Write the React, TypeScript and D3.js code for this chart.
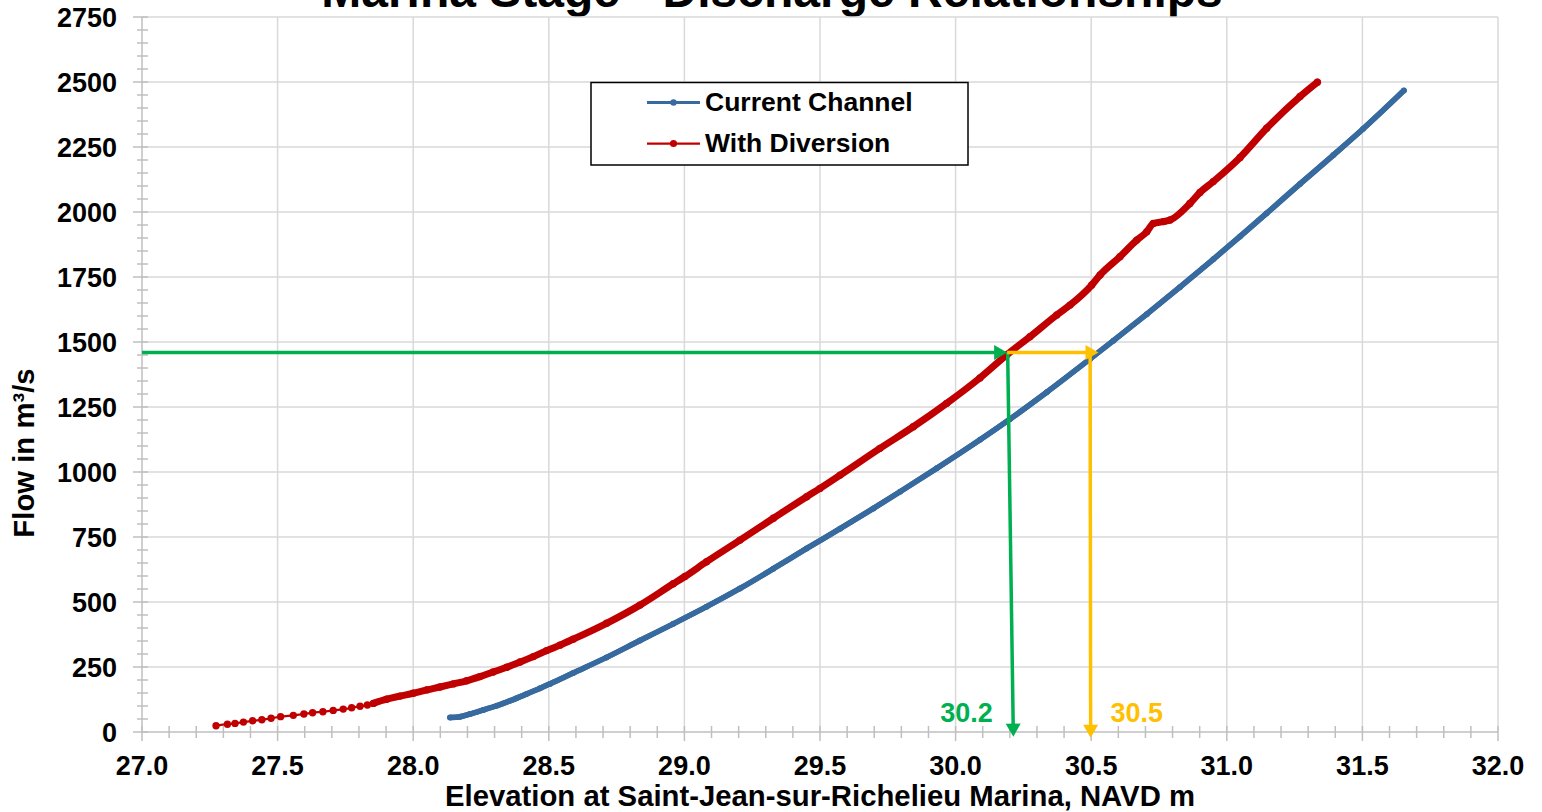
import * as d3 from "d3";
import { useEffect, useRef } from "react";

// Stage (m) and discharge (m3/s).
const currentElev = [
  28.136, 28.173, 28.209, 28.259, 28.308, 28.357, 28.418, 28.468, 28.504, 28.59,
  28.713, 28.836, 28.959, 29.082, 29.205, 29.328, 29.451, 29.574, 29.697, 29.795,
  29.93, 30.09, 30.201, 30.336, 30.496, 30.582, 30.705, 30.827, 30.95, 31.049,
  31.147, 31.27, 31.393, 31.503, 31.653,
];
const currentFlow = [
  56, 59, 69, 85, 101, 120, 146, 168, 185, 227,
  287, 352, 416, 482, 552, 628, 706, 782, 860, 924,
  1014, 1124, 1204, 1307, 1435, 1505, 1607, 1711, 1818, 1906,
  1995, 2108, 2219, 2320, 2467,
];

const diversionElev = [
  27.273, 27.315, 27.343, 27.374, 27.408, 27.442, 27.476, 27.511, 27.558, 27.597,
  27.629, 27.667, 27.705, 27.742, 27.773, 27.804, 27.831, 27.853, 27.902, 27.951,
  28.0, 28.05, 28.099, 28.148, 28.197, 28.246, 28.295, 28.345, 28.394, 28.443,
  28.492, 28.541, 28.59, 28.713, 28.836, 28.959, 29.002, 29.082, 29.205, 29.328,
  29.451, 29.5, 29.574, 29.721, 29.844, 29.967, 30.09, 30.188, 30.274, 30.373,
  30.422, 30.502, 30.533, 30.606, 30.668, 30.705, 30.729, 30.766, 30.791, 30.864,
  30.901, 30.95, 31.049, 31.147, 31.27, 31.334,
];
const diversionFlow = [
  24, 30, 33, 38, 43, 47, 53, 59, 64, 69,
  74, 78, 83, 88, 93, 99, 104, 110, 126, 138,
  149, 162, 173, 185, 197, 213, 231, 249, 269, 290,
  313, 334, 357, 418, 488, 570, 598, 655, 738, 822,
  905, 937, 988, 1091, 1174, 1264, 1362, 1450, 1520, 1604,
  1642, 1719, 1758, 1828, 1892, 1924, 1956, 1963, 1969, 2033,
  2075, 2117, 2210, 2322, 2444, 2499,
];

// Below this elevation the "With Diversion" markers sit apart on a thin line
const diversionSparseBelow = 27.86;

const seriesNames = ["Current Channel", "With Diversion"];

const xTickValues = [27, 27.5, 28, 28.5, 29, 29.5, 30, 30.5, 31, 31.5, 32];
const xTickLabels = ["27.0", "27.5", "28.0", "28.5", "29.0", "29.5", "30.0", "30.5", "31.0", "31.5", "32.0"];
const yTickValues = [0, 250, 500, 750, 1000, 1250, 1500, 1750, 2000, 2250, 2500, 2750];

// Read-off arrows: [start, end] as [elevation, flow]
const greenAcross = [[27.0, 1460], [30.19, 1460]];
const greenDown = [[30.192, 1460], [30.213, -18]];
const yellowAcross = [[30.19, 1460], [30.527, 1460]];
const yellowDown = [[30.496, 1460], [30.498, -22]];
const readLabels = ["30.2", "30.5"];
const readLabelAt = [[30.04, 38], [30.668, 38]];

const W = 1542;
const H = 812;

const Chart = () => {
  const ref = useRef(null);

  useEffect(() => {
    if (!ref.current) return;
    const svg = d3.select(ref.current);
    svg.selectAll("*").remove();

    const font = "'Liberation Sans', Arial, Helvetica, sans-serif";
    const blue = "#376a9e";
    const red = "#c00000";
    const green = "#00b050";
    const yellow = "#ffc000";
    const gridColor = "#d9d9d9";
    const axisColor = "#bfbfbf";

    const x = d3.scaleLinear().domain([27, 32]).range([142, 1498]);
    const y = d3.scaleLinear().domain([0, 2750]).range([732, 17]);

    // --- Title (clipped by the top edge, as in the source) ---
    svg
      .append("text")
      .attr("x", 772)
      .attr("y", 7)
      .attr("text-anchor", "middle")
      .attr("font-family", font)
      .attr("font-weight", "bold")
      .attr("font-size", 48)
      .text("Marina Stage - Discharge Relationships");

    // --- Gridlines ---
    const grid = svg.append("g").attr("stroke", gridColor).attr("stroke-width", 1.5);
    yTickValues
      .filter((v) => v > 0)
      .forEach((v) => {
        grid.append("line").attr("x1", x(27)).attr("x2", x(32)).attr("y1", y(v)).attr("y2", y(v));
      });
    xTickValues
      .filter((v) => v > 27)
      .forEach((v) => {
        grid.append("line").attr("x1", x(v)).attr("x2", x(v)).attr("y1", y(0)).attr("y2", y(2750));
      });

    // --- Axes ---
    const axes = svg.append("g").attr("stroke", axisColor).attr("stroke-width", 1.5);
    axes.append("line").attr("x1", x(27)).attr("x2", x(27)).attr("y1", y(2750)).attr("y2", y(0));
    axes.append("line").attr("x1", x(27)).attr("x2", x(32)).attr("y1", y(0)).attr("y2", y(0));

    d3.range(0, 2751, 50).forEach((v) => {
      const major = v % 250 === 0;
      axes
        .append("line")
        .attr("x1", x(27) - (major ? 9 : 5))
        .attr("x2", x(27) + 6)
        .attr("y1", y(v))
        .attr("y2", y(v));
    });
    d3.range(0, 51).forEach((i) => {
      const v = 27 + i * 0.1;
      const major = i % 5 === 0;
      axes
        .append("line")
        .attr("x1", x(v))
        .attr("x2", x(v))
        .attr("y1", y(0) - 6)
        .attr("y2", y(0) + (major ? 9 : 6));
    });

    // --- Tick labels ---
    const labels = svg
      .append("g")
      .attr("font-family", font)
      .attr("font-weight", "bold")
      .attr("font-size", 27);
    yTickValues.forEach((v) => {
      labels
        .append("text")
        .attr("x", 117)
        .attr("y", y(v))
        .attr("dy", "0.36em")
        .attr("text-anchor", "end")
        .text(String(v));
    });
    xTickValues.forEach((v, i) => {
      labels
        .append("text")
        .attr("x", x(v))
        .attr("y", 775)
        .attr("text-anchor", "middle")
        .text(xTickLabels[i]);
    });

    // --- Axis titles ---
    svg
      .append("text")
      .attr("x", (x(27) + x(32)) / 2)
      .attr("y", 806)
      .attr("text-anchor", "middle")
      .attr("font-family", font)
      .attr("font-weight", "bold")
      .attr("font-size", 29.3)
      .text("Elevation at Saint-Jean-sur-Richelieu Marina, NAVD m");

    svg
      .append("text")
      .attr("transform", "translate(34, 453) rotate(-90)")
      .attr("text-anchor", "middle")
      .attr("font-family", font)
      .attr("font-weight", "bold")
      .attr("font-size", 29.3)
      .text("Flow in m³/s");

    // --- Series ---
    const line = d3
      .line()
      .x((d) => x(d[0]))
      .y((d) => y(d[1]))
      .curve(d3.curveMonotoneX);

    const bluePts = d3.zip(currentElev, currentFlow);
    const redPts = d3.zip(diversionElev, diversionFlow);
    const redDenseStart = redPts.findIndex((d) => d[0] > diversionSparseBelow) - 1;

    const series = [
      { pts: bluePts, dense: bluePts, color: blue, thin: 5.5, thick: 5.5, r: 3 },
      { pts: redPts, dense: redPts.slice(redDenseStart), color: red, thin: 2.25, thick: 7, r: 3.7 },
    ];

    series.forEach((s) => {
      const g = svg.append("g");
      g.append("path")
        .attr("d", line(s.pts))
        .attr("fill", "none")
        .attr("stroke", s.color)
        .attr("stroke-width", s.thin)
        .attr("stroke-linecap", "round")
        .attr("stroke-linejoin", "round");
      g.append("path")
        .attr("d", line(s.dense))
        .attr("fill", "none")
        .attr("stroke", s.color)
        .attr("stroke-width", s.thick)
        .attr("stroke-linecap", "round")
        .attr("stroke-linejoin", "round");
      g.selectAll("circle")
        .data(s.pts)
        .enter()
        .append("circle")
        .attr("cx", (d) => x(d[0]))
        .attr("cy", (d) => y(d[1]))
        .attr("r", s.r)
        .attr("fill", s.color);
    });

    // --- Read-off arrows ---
    const arrow = (seg, color) => {
      const p1 = [x(seg[0][0]), y(seg[0][1])];
      const p2 = [x(seg[1][0]), y(seg[1][1])];
      const dx = p2[0] - p1[0];
      const dy = p2[1] - p1[1];
      const len = Math.hypot(dx, dy);
      const ux = dx / len;
      const uy = dy / len;
      const headL = 13;
      const headW = 15;
      const bx = p2[0] - ux * headL;
      const by = p2[1] - uy * headL;
      svg
        .append("line")
        .attr("x1", p1[0])
        .attr("y1", p1[1])
        .attr("x2", bx + ux)
        .attr("y2", by + uy)
        .attr("stroke", color)
        .attr("stroke-width", 3.5);
      svg
        .append("path")
        .attr(
          "d",
          `M${p2[0]},${p2[1]}L${bx - (uy * headW) / 2},${by + (ux * headW) / 2}L${bx + (uy * headW) / 2},${by - (ux * headW) / 2}Z`
        )
        .attr("fill", color);
    };
    arrow(greenDown, green);
    arrow(yellowDown, yellow);
    arrow(yellowAcross, yellow);
    arrow(greenAcross, green);

    [green, yellow].forEach((c, i) => {
      svg
        .append("text")
        .attr("x", x(readLabelAt[i][0]))
        .attr("y", y(readLabelAt[i][1]))
        .attr("text-anchor", "middle")
        .attr("font-family", font)
        .attr("font-weight", "bold")
        .attr("font-size", 27)
        .attr("fill", c)
        .text(readLabels[i]);
    });

    // --- Legend ---
    const legend = svg.append("g");
    legend
      .append("rect")
      .attr("x", 591)
      .attr("y", 82.5)
      .attr("width", 377)
      .attr("height", 82.5)
      .attr("fill", "white")
      .attr("stroke", "black")
      .attr("stroke-width", 1.5);
    const legendItems = [
      { color: blue, width: 3, r: 3.2 },
      { color: red, width: 2.25, r: 3.6 },
    ];
    legendItems.forEach((it, i) => {
      const ly = 102.5 + i * 41;
      legend
        .append("line")
        .attr("x1", 647)
        .attr("x2", 700)
        .attr("y1", ly)
        .attr("y2", ly)
        .attr("stroke", it.color)
        .attr("stroke-width", it.width);
      legend.append("circle").attr("cx", 673.5).attr("cy", ly).attr("r", it.r).attr("fill", it.color);
      legend
        .append("text")
        .attr("x", 705)
        .attr("y", ly + 8.5)
        .attr("font-family", font)
        .attr("font-weight", "bold")
        .attr("font-size", 26.5)
        .text(seriesNames[i]);
    });
  }, []);

  return (
    <svg
      ref={ref}
      width={W}
      height={H}
      style={{ position: "absolute", left: 0, top: 0, background: "white" }}
    />
  );
};

export default function App() {
  return <Chart />;
}
